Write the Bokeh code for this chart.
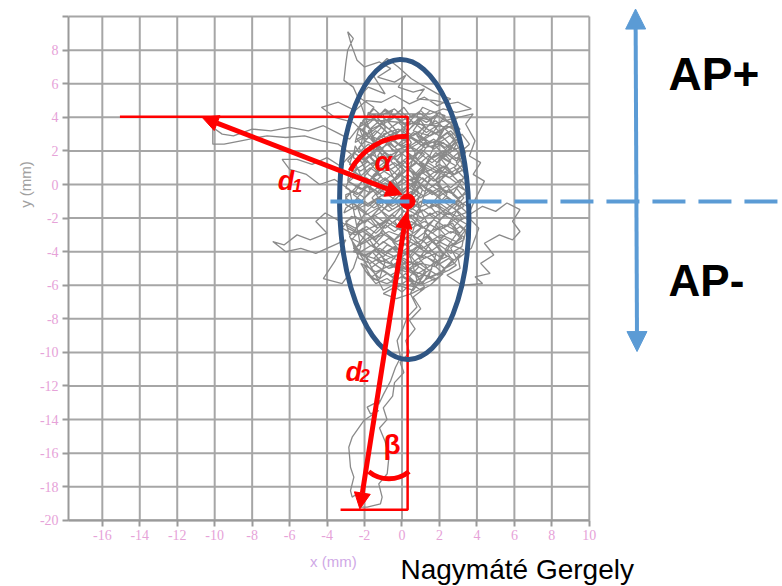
import math
from bokeh.plotting import figure
from bokeh.models import (Arrow, NormalHead, Label, FixedTicker, Range1d, LinearAxis)
from bokeh.embed import file_html
from bokeh.resources import INLINE

# ---------------- data ----------------
x_ticks = list(range(-16, 11, 2))
y_ticks = list(range(-20, 11, 2))
x_tick_labels = ["-16", "-14", "-12", "-10", "-8", "-6", "-4", "-2", "0", "2", "4", "6", "8", "10"]
y_tick_labels = ["-20", "-18", "-16", "-14", "-12", "-10", "-8", "-6", "-4", "-2", "0", "2", "4", "6", "8", ""]
x_extent = (-17.8, 10)
y_extent = (-20, 10)

# centre-of-pressure trace (mm)
cop_path = [
    (0.3,-1.0),(-0.5,0.5),(-1.2,2.0),(-1.8,3.5),(-2.2,4.8),(-2.6,5.8),(-3.1,6.2),(-3.0,7.2),(-2.9,8.0),(-2.6,8.7),
    (-2.9,9.1),(-2.7,8.3),(-2.4,7.4),(-2.0,7.0),(-1.2,7.3),(-0.6,6.9),(-1.3,6.4),(-0.4,6.1),(0.2,6.5),(-0.2,5.8),
    (0.6,5.5),(1.2,5.7),(0.8,5.1),(1.8,5.0),(2.5,4.8),(3.0,4.9),(3.7,4.5),(2.9,4.3),(2.2,4.5),(1.5,4.2),
    (-1.8,4.2),(-1.2,3.6),(-0.4,4.1),(0.3,3.5),(1.1,4.0),(0.6,3.2),(1.5,2.9),(2.3,3.4),(1.9,2.6),(2.7,2.2),
    (2.1,1.6),(2.9,1.1),(2.2,0.7),(1.4,1.3),(0.8,0.6),(0.1,1.4),(-0.6,0.9),(-1.3,1.7),(-0.8,2.5),(-1.7,2.9),
    (-2.3,2.2),(-1.9,1.3),(-2.6,0.8),(-1.8,0.2),(-1.1,0.9),(-0.3,0.3),(0.5,1.1),(1.2,1.8),(0.4,2.3),(-0.5,2.0),
    (-1.0,3.0),(-0.2,3.3),(0.7,2.7),(1.6,2.2),(2.4,2.8),(3.1,3.3),(2.6,3.9),(1.7,3.6),(0.9,4.3),(0.0,3.8),
    (-0.9,4.4),(-1.6,3.9),(-2.3,3.4),(-2.0,2.6),(-1.3,2.3),(-0.6,1.5),(0.2,2.0),(0.9,1.4),(1.7,0.9),(2.5,0.4),
    (3.3,0.9),(3.0,1.8),(3.6,2.4),(3.2,3.0),(2.4,2.0),(1.5,1.5),(0.7,0.2),
    (-0.1,-0.4),(-0.9,0.1),(-1.7,-0.5),(-2.4,-0.1),(-3.0,-0.8),(-2.3,-1.4),(-1.5,-1.0),(-0.7,-1.6),(0.1,-1.1),(0.9,-1.7),
    (1.7,-1.2),(2.5,-1.8),(3.3,-1.3),(2.8,-0.6),(2.0,-0.2),(1.2,-0.7),(0.4,-0.2),(-0.4,-0.9),(-1.2,-1.7),(-2.0,-2.2),
    (-2.7,-1.9),(-3.2,-2.6),(-2.5,-3.0),(-1.7,-2.6),(-0.9,-2.2),(-0.1,-2.7),(0.7,-2.3),(1.5,-2.8),(2.3,-2.4),(3.1,-2.9),
    (3.6,-2.2),(3.0,-1.6),(2.2,-1.0),(1.4,-0.3),(0.6,0.4),(-0.2,-0.1),(-1.0,-0.6),(-1.9,-1.2),(-2.6,-0.6),(-2.0,0.4),
    (-1.3,-0.2),(-0.5,-0.8),(0.3,-1.5),(1.1,-2.0),(1.9,-1.6),(2.7,-2.1),(3.4,-2.7),(2.9,-3.4),(2.1,-3.0),(1.3,-3.5),
    (0.5,-3.0),(-0.3,-3.4),(-1.1,-2.9),(-1.9,-3.4),(-2.6,-3.8),(-2.0,-4.2),(-1.2,-3.8),(-0.4,-4.3),(0.4,-3.9),(1.2,-4.4),
    (2.0,-4.0),(2.8,-4.5),(3.3,-3.9),
    (2.6,-3.6),(1.8,-4.9),(1.0,-4.7),(0.2,-5.2),(-0.6,-4.8),(-1.4,-5.2),(-2.0,-4.8),(-1.6,-5.6),(-0.8,-5.9),(0.0,-5.5),
    (0.8,-6.0),(1.5,-5.5),(2.3,-5.1),(1.6,-4.2),(0.8,-3.4),(0.0,-4.0),(-0.8,-3.6),(-1.5,-4.4),(-0.7,-5.0),(0.5,-4.6),
    (1.3,-5.2),(0.6,-6.3),(-0.2,-6.0),(-1.0,-6.5),(-0.3,-6.8),(0.5,-6.5),(1.2,-6.1),(0.7,-5.3),(0.0,-4.6),(-0.9,-4.2),
    (-1.7,-3.6),(-2.4,-2.8),
    (-3.3,-2.2),(-4.1,-1.7),(-4.6,-2.2),(-4.0,-2.9),(-4.9,-3.3),(-5.6,-3.0),(-6.3,-3.6),(-6.9,-3.4),(-6.2,-4.0),(-5.4,-3.8),
    (-4.6,-4.1),(-3.8,-3.7),(-3.0,-3.3),(-3.6,-4.6),(-4.2,-5.6),(-3.2,-5.9),(-2.6,-5.0),(-2.2,-3.7),(-2.8,-0.3),(-3.6,0.3),
    (-4.4,0.0),(-5.1,0.6),(-6.0,0.9),(-6.4,1.5),(-5.6,1.5),(-4.8,1.2),(-4.0,1.6),(-3.3,1.1),(-2.7,1.8),(-3.4,2.4),
    (-4.3,2.6),(-5.2,2.9),(-6.2,2.8),(-7.2,2.9),(-7.7,2.8),(-8.6,2.6),(-9.5,2.4),(-10.1,2.4),(-10.1,3.4),(-9.6,3.0),
    (-9.0,2.9),(-8.0,3.3),(-7.0,3.2),(-6.0,3.4),(-5.0,3.2),(-4.2,3.5),(-3.5,3.1),(-2.8,2.7),
    (-1.5,4.6),(-2.3,5.2),(-1.8,5.8),(-0.9,5.4),(-1.6,6.6),(-0.8,7.5),(-0.2,7.0),(0.5,6.3),(1.1,5.9),(1.9,5.4),
    (2.6,5.1),(1.9,4.7),(1.2,5.2),(0.4,4.8),(-0.4,5.3),(-1.1,4.9),(-1.9,5.0),(-2.5,4.4),(-3.4,4.9),(-4.3,4.6),
    (-3.6,4.0),(-2.6,3.7),(-1.0,2.0),(1.5,0.0),(3.0,-1.2),
    (3.6,-1.8),(4.3,-1.3),(5.0,-1.6),(5.6,-1.1),(6.3,-1.5),(5.9,-2.2),(6.3,-2.8),(5.9,-3.3),(5.2,-3.0),(4.4,-3.5),
    (4.9,-4.2),(4.2,-4.7),(4.7,-5.3),(3.9,-5.5),(4.3,-5.9),(3.2,-6.0),(2.4,-5.4),(3.1,-5.0),(3.0,-4.4),(3.7,-3.8),
    (4.1,-2.6),(3.5,-1.9),(3.9,-0.9),(4.4,0.2),(3.8,0.6),(4.2,1.3),(3.6,1.7),(3.9,2.6),(3.4,3.6),(3.8,4.2),
    (3.0,4.0),(2.2,3.4),(1.4,1.5),
    (0.2,-1.2),(0.9,-0.5),(0.5,0.3),(1.3,0.8),(1.9,0.1),(2.6,0.8),(2.1,1.5),(2.8,2.1),(2.2,2.8),(1.4,2.4),
    (0.8,3.1),(0.1,2.6),(-0.6,3.2),(-1.4,2.6),(-0.9,1.9),(-1.6,1.2),(-2.3,1.6),(-1.8,0.6),(-1.1,0.1),(-0.4,0.7),
    (0.4,1.6),(1.1,1.0),(1.8,1.9),(2.5,1.4),(3.1,2.0),(2.7,2.9),(2.0,3.6),(1.3,3.1),(0.5,3.8),(-0.3,3.0),
    (-1.1,3.6),(-1.8,3.2),(-1.3,2.0),(-0.5,2.6),(0.3,2.2),(1.0,2.7),(1.7,2.5),(2.4,3.1),(2.9,2.5),(2.3,1.9),
    (1.6,1.3),(0.9,1.9),(0.2,1.0),(-0.5,1.7),(-1.2,1.1),(-1.9,1.9),(-2.5,1.3),(-2.0,0.0),(-1.3,-0.6),(-0.6,0.2),
    (0.1,-0.5),(0.8,0.2),(1.6,-0.6),(2.4,-0.1),(3.0,-0.9),(2.3,-1.5),(1.6,-1.0),(0.9,-1.4),(0.2,-0.8),(-0.5,-1.3),
    (-1.2,-0.9),(-1.9,-1.6),(-2.4,-2.4),(-1.6,-2.0),(-0.9,-2.6),(-0.2,-2.0),(0.5,-2.6),(1.2,-2.2),(2.0,-2.7),(2.7,-2.3),
    (3.2,-3.2),(2.5,-3.7),(1.8,-3.3),(1.1,-3.8),(0.4,-3.4),(-0.3,-3.9),(-1.0,-3.4),(-1.6,-4.0),(-1.1,-4.6),(-0.3,-4.2),
    (0.4,-4.8),(1.1,-4.2),(1.8,-4.6),(2.4,-4.3),(2.0,-3.8),(1.4,-3.0),(0.7,-3.6),(0.0,-3.1),(-0.7,-2.8),(-1.4,-3.2),
    (-2.1,-2.6),(-2.7,-3.3),(-2.2,-4.1),(-1.4,-4.8),(-0.6,-5.4),(0.2,-4.9),(0.9,-5.5),(1.6,-5.0),(1.1,-5.9),(0.3,-5.7),
    (-0.4,-6.2),
    (-0.1,-5.0),(0.6,-4.0),(1.3,-3.2),(2.1,-2.0),(2.8,-1.2),(3.4,-0.4),(2.9,0.3),(2.2,1.1),(1.3,0.4),(0.5,-0.6),
    (-0.4,-1.9),(-1.2,-2.4),(-2.0,-1.6),(-2.6,-1.1),(-2.1,-0.4),(-1.5,0.6),(-0.8,1.3),(0.0,1.9),(0.8,2.4),(1.6,3.0),
    (2.3,4.1),(1.5,4.4),(0.7,3.6),(-0.1,4.4),(-0.8,3.8),(-1.5,4.5),(-2.1,3.8),(-1.6,3.2),(-2.4,2.7),(-1.9,2.0),
    (-1.2,2.9),(-0.4,2.2),(0.3,2.9),(1.2,2.2),(2.0,2.4),(2.7,1.7),(3.3,1.3),(2.8,0.6),(2.0,0.8),(1.2,-0.1),
    (0.3,0.6),(-0.6,-0.3),(-1.4,0.3),(-2.2,-0.3),(-2.9,0.2),(-2.4,0.9),(-2.9,1.4),(-2.2,2.3),
    (-1.8,4.3),(-1.3,4.0),(-0.9,4.5),(-0.4,4.1),(0.1,4.6),(0.5,4.0),(1.0,4.4),(1.5,3.9),(2.0,4.3),(2.4,3.8),
    (2.8,3.6),(2.3,3.3),(1.8,3.8),(1.3,3.4),(0.8,3.7),(0.3,3.2),(-0.2,3.7),(-0.7,3.3),(-1.2,3.8),(-1.7,3.3),(-2.2,3.7),
    (-2.4,3.0),(-1.9,2.7),(-1.4,3.2),(-0.9,2.8),(-0.4,3.1),(0.1,2.6),(0.6,3.1),(1.1,2.7),(1.6,3.2),(2.1,2.8),(2.6,3.2),(3.0,2.7),
    (3.2,2.3),(2.7,2.0),(2.2,2.5),(1.7,2.1),(1.2,2.5),(0.7,2.0),(0.2,2.4),(-0.3,1.9),(-0.8,2.4),(-1.3,2.0),(-1.8,2.4),(-2.3,1.9),(-2.5,2.3),
    (-2.6,1.6),(-2.1,1.3),(-1.6,1.8),(-1.1,1.4),(-0.6,1.8),(-0.1,1.3),(0.4,1.7),(0.9,1.2),(1.4,1.7),(1.9,1.3),(2.4,1.8),(2.9,1.4),(3.3,1.7),
    (3.3,0.9),(2.8,0.6),(2.3,1.1),(1.8,0.7),(1.3,1.0),(0.8,0.5),(0.3,0.9),(-0.2,0.5),(-0.7,1.0),(-1.2,0.6),(-1.7,1.0),(-2.2,0.5),(-2.8,0.9),
    (-2.9,0.2),(-2.4,-0.1),(-1.9,0.4),(-1.4,0.0),(-0.9,0.4),(-0.4,-0.1),(0.1,0.3),(0.6,-0.1),(1.1,0.4),(1.6,-0.1),(2.1,0.3),(2.6,-0.2),(3.1,0.3),(3.4,0.0),
    (3.5,-0.5),(3.0,-0.8),(2.5,-0.3),(2.0,-0.7),(1.5,-0.3),(1.0,-0.8),(0.5,-0.4),(0.0,-0.8),(-0.5,-0.3),(-1.0,-0.7),(-1.5,-0.3),(-2.0,-0.8),(-2.5,-0.4),(-3.0,-0.6),
    (-3.0,-1.2),(-2.5,-1.5),(-2.0,-1.0),(-1.5,-1.4),(-1.0,-1.0),(-0.5,-1.5),(0.0,-1.1),(0.5,-1.5),(1.0,-1.0),(1.5,-1.4),(2.0,-1.1),(2.5,-1.5),(3.0,-1.0),(3.5,-1.3),
    (3.5,-1.9),(3.0,-2.2),(2.5,-1.7),(2.0,-2.1),(1.5,-1.7),(1.0,-2.2),(0.5,-1.8),(0.0,-2.3),(-0.5,-1.8),(-1.0,-2.2),(-1.5,-1.8),(-2.0,-2.3),(-2.5,-1.9),(-3.0,-2.2),
    (-2.9,-2.6),(-2.4,-2.9),(-1.9,-2.5),(-1.4,-2.9),(-0.9,-2.4),(-0.4,-2.8),(0.1,-2.4),(0.6,-2.9),(1.1,-2.5),(1.6,-2.9),(2.1,-2.5),(2.6,-2.9),(3.1,-2.5),(3.4,-2.8),
    (3.3,-3.3),(2.8,-3.6),(2.3,-3.2),(1.8,-3.6),(1.3,-3.1),(0.8,-3.5),(0.3,-3.1),(-0.2,-3.6),(-0.7,-3.2),(-1.2,-3.6),(-1.7,-3.1),(-2.2,-3.5),(-2.7,-3.2),
    (-2.5,-4.0),(-2.0,-4.3),(-1.5,-3.9),(-1.0,-4.3),(-0.5,-3.8),(0.0,-4.3),(0.5,-3.9),(1.0,-4.4),(1.5,-3.9),(2.0,-4.3),(2.5,-3.9),(3.1,-4.2),
    (2.8,-4.7),(2.3,-5.0),(1.8,-4.6),(1.3,-5.0),(0.8,-4.6),(0.3,-5.1),(-0.2,-4.6),(-0.7,-5.0),(-1.2,-4.6),(-1.7,-5.0),(-2.2,-4.7),
    (-1.8,-5.4),(-1.3,-5.7),(-0.8,-5.3),(-0.3,-5.7),(0.2,-5.3),(0.7,-5.8),(1.2,-5.4),(1.7,-5.7),(2.2,-5.3),
    (1.5,-6.0),(1.0,-6.3),(0.5,-5.9),(0.0,-6.4),(-0.5,-6.0),(-1.0,-6.3),
    (-1.6,-5.0),(-1.9,-4.4),(-1.4,-3.8),(-1.8,-3.2),(-1.3,-2.6),(-1.7,-2.0),(-1.2,-1.4),(-1.6,-0.8),(-1.1,-0.2),(-1.6,0.4),
    (-1.2,1.0),(-1.7,1.6),(-1.2,2.2),(-1.6,2.8),(-1.1,3.4),(-1.5,4.0),
    (-0.5,4.4),(-0.8,3.8),(-0.3,3.2),(-0.7,2.6),(-0.2,2.0),(-0.6,1.4),(-0.1,0.8),(-0.5,0.2),(0.0,-0.4),(-0.4,-1.0),
    (0.1,-1.6),(-0.4,-2.2),(0.0,-2.8),(-0.5,-3.4),(-0.1,-4.0),(-0.6,-4.6),(-0.2,-5.2),(-0.6,-5.8),
    (0.7,-6.1),(0.4,-5.5),(0.9,-4.9),(0.5,-4.3),(1.0,-3.7),(0.6,-3.1),(1.1,-2.5),(0.6,-1.9),(1.0,-1.3),(0.5,-0.7),
    (1.0,-0.1),(0.6,0.5),(1.1,1.1),(0.7,1.7),(1.2,2.3),(0.8,2.9),(1.2,3.5),(0.8,4.1),(1.1,4.6),
    (1.9,4.2),(1.6,3.6),(2.1,3.0),(1.7,2.4),(2.2,1.8),(1.8,1.2),(2.3,0.6),(1.9,0.0),(2.4,-0.6),(1.9,-1.2),
    (2.3,-1.8),(1.8,-2.4),(2.3,-3.0),(1.8,-3.6),(2.2,-4.2),(1.7,-4.8),(2.1,-5.2),
    (2.9,-4.4),(2.6,-3.8),(3.1,-3.2),(2.7,-2.6),(3.2,-2.0),(2.8,-1.4),(3.3,-0.8),(2.9,-0.2),(3.3,0.4),(2.8,1.0),
    (3.2,1.6),(2.8,2.2),(3.1,2.8),(2.7,3.4),
    (-2.0,3.9),(-1.5,4.2),(-1.0,3.6),(-0.4,4.0),(0.2,3.5),(0.7,4.1),(1.3,3.7),(1.9,4.1),(2.6,3.6),
    (3.0,3.1),(2.4,3.5),(1.8,3.0),(1.2,3.4),(0.6,2.9),(0.0,3.3),(-0.6,2.9),(-1.2,3.5),(-1.8,3.0),(-2.3,3.4),
    (-2.5,2.5),(-1.9,2.9),(-1.3,2.4),(-0.7,2.8),(-0.1,2.3),(0.5,2.8),(1.1,2.3),(1.7,2.7),(2.3,2.2),(2.9,2.7),(3.2,2.3),
    (3.4,1.9),(2.8,1.5),(2.2,2.0),(1.6,1.6),(1.0,2.1),(0.4,1.5),(-0.2,2.0),(-0.8,1.6),(-1.4,2.1),(-2.0,1.5),(-2.6,1.9),
    (-2.8,1.2),(-2.2,0.8),(-1.6,1.3),(-1.0,0.9),(-0.4,1.3),(0.2,0.8),(0.8,1.3),(1.4,0.8),(2.0,1.2),(2.6,0.7),(3.2,1.1),(3.4,0.7),
    (3.5,0.5),(2.9,0.1),(2.3,0.6),(1.7,0.2),(1.1,0.7),(0.5,0.2),(-0.1,0.6),(-0.7,0.1),(-1.3,0.6),(-1.9,0.1),(-2.5,0.5),(-2.9,0.1),
    (-3.0,-0.2),(-2.4,-0.6),(-1.8,-0.1),(-1.2,-0.5),(-0.6,0.0),(0.0,-0.4),(0.6,0.1),(1.2,-0.4),(1.8,0.0),(2.4,-0.5),(3.0,-0.1),(3.6,-0.5),
    (3.6,-0.9),(3.0,-1.3),(2.4,-0.8),(1.8,-1.3),(1.2,-0.9),(0.6,-1.3),(0.0,-0.8),(-0.6,-1.2),(-1.2,-0.8),(-1.8,-1.3),(-2.4,-0.9),(-3.0,-1.4),
    (-3.1,-1.7),(-2.5,-1.3),(-1.9,-1.8),(-1.3,-1.4),(-0.7,-1.9),(-0.1,-1.4),(0.5,-1.9),(1.1,-1.5),(1.7,-2.0),(2.3,-1.5),(2.9,-1.9),(3.6,-1.6),
    (3.5,-2.4),(2.9,-2.0),(2.3,-2.5),(1.7,-2.1),(1.1,-2.6),(0.5,-2.2),(-0.1,-2.6),(-0.7,-2.1),(-1.3,-2.6),(-1.9,-2.1),(-2.5,-2.6),(-3.0,-2.3),
    (-2.8,-3.0),(-2.2,-2.7),(-1.6,-3.2),(-1.0,-2.8),(-0.4,-3.3),(0.2,-2.8),(0.8,-3.2),(1.4,-2.7),(2.0,-3.2),(2.6,-2.8),(3.3,-3.1),
    (3.2,-3.7),(2.6,-4.1),(2.0,-3.6),(1.4,-4.1),(0.8,-3.7),(0.2,-4.2),(-0.4,-3.7),(-1.0,-4.1),(-1.6,-3.6),(-2.2,-4.0),(-2.6,-3.6),
    (-2.3,-4.4),(-1.7,-4.7),(-1.1,-4.3),(-0.5,-4.8),(0.1,-4.4),(0.7,-4.8),(1.3,-4.3),(1.9,-4.8),(2.5,-4.4),(2.9,-4.8),
    (2.5,-5.1),(1.9,-5.4),(1.3,-5.0),(0.7,-5.4),(0.1,-5.0),(-0.5,-5.5),(-1.1,-5.1),(-1.6,-5.5),(-2.0,-5.1),
    (-1.4,-5.9),(-0.8,-5.6),(-0.2,-6.1),(0.4,-5.6),(1.0,-6.0),(1.8,-5.6),
    (-2.6,-4.0),(-1.9,-2.9),(-1.4,-3.3),(-0.7,-2.1),(-1.1,-1.6),(-0.3,-0.6),(-0.8,-0.2),(0.1,0.9),(-0.3,1.4),(0.5,2.5),(0.2,3.0),(0.9,4.0),
    (1.6,3.8),(1.0,2.9),(1.5,2.5),(0.8,1.5),(1.3,1.0),(0.5,-0.1),(1.0,-0.6),(0.2,-1.7),(0.7,-2.2),(-0.1,-3.3),(0.4,-3.8),(-0.4,-4.9),(0.1,-5.5),
    (0.9,-5.9),(1.3,-4.9),(0.9,-4.4),(1.6,-3.4),(1.2,-2.8),(1.9,-1.8),(1.5,-1.3),(2.2,-0.3),(1.8,0.3),(2.6,1.4),(2.2,1.9),(3.0,3.0),(2.6,3.5),
    (3.3,2.2),(2.9,1.3),(3.4,0.6),(2.7,-0.6),(3.2,-1.1),(2.5,-2.3),(3.0,-2.8),(2.3,-3.9),(2.7,-4.5),(2.0,-5.3),
    (1.4,-5.6),(1.8,-4.2),(1.1,-3.3),(1.4,-2.4),(0.8,-1.1),(1.1,-0.3),(0.4,0.9),(0.7,1.9),(0.0,2.9),(0.3,3.8),(-0.4,4.5),
    (-1.0,4.2),(-0.9,3.3),(-1.6,2.3),(-1.3,1.4),(-2.0,0.5),(-1.7,-0.4),(-2.4,-1.3),(-2.1,-2.2),(-2.8,-3.1),(-2.4,-3.9),(-1.8,-4.9),(-1.2,-5.6),
    (-0.9,-4.6),(-1.5,-3.6),(-0.9,-2.9),(-1.6,-1.9),(-1.0,-1.2),(-1.7,-0.1),(-1.1,0.5),(-1.9,1.5),(-1.3,2.2),(-2.1,3.3),(-1.5,3.9),
    (1.5,0.5),(0.3,-3.8),(0.6,-4.9),
    (0.8,-5.7),(0.45,-6.5),(0.8,-7.3),(0.28,-7.9),(0.01,-8.7),(-0.26,-9.3),(-0.08,-10.3),(-0.35,-10.9),(-0.61,-11.7),(-0.99,-12.5),
    (-1.25,-13.1),(-1.15,-12.86),(-1.86,-13.26),(-1.68,-13.66),(-1.24,-13.46),(-2.04,-14.06),(-2.66,-15.05),(-2.84,-15.65),(-2.75,-16.84),(-2.57,-17.43),
    (-2.75,-18.23),(-2.66,-18.62),(-2.39,-18.42),(-2.22,-19.22),(-1.86,-19.22),(-1.15,-19.02),(-1.06,-18.62),(-1.24,-17.83),(-0.79,-17.23),(-0.70,-16.24),
    (-0.9,-15.3),(-1.2,-14.5),(-0.8,-14.0),(-1.0,-13.3),(-0.5,-12.6),(-0.4,-11.8),(0.1,-11.2),(-0.1,-10.6),(0.4,-10.0),(0.2,-9.3),
    (0.7,-8.6),(0.4,-8.1),(1.0,-7.4),(0.6,-6.7),(1.2,-6.2),
]
trace_x = [pt[0] for pt in cop_path]
trace_y = [pt[1] for pt in cop_path]

RED = "#ff0000"
NAVY = "#2f5583"
LBLUE = "#5b9bd5"
GRID = "#a6a6a6"
TICKC = "#e6a2d8"

# whole canvas is the frame; the chart's own axes are placed at fixed locations
p = figure(width=782, height=586, output_backend="svg", toolbar_location=None,
           x_range=Range1d(-21.436, 20.315), y_range=Range1d(-23.943, 10.959),
           x_axis_location=None, y_axis_location=None, min_border=0)
p.outline_line_color = None
p.background_fill_color = "white"
p.border_fill_color = "white"
p.xgrid.visible = False
p.ygrid.visible = False

# grid lines at the tick positions, limited to the chart area
p.segment(x0=x_ticks, y0=[y_extent[0]] * len(x_ticks), x1=x_ticks, y1=[y_extent[1]] * len(x_ticks),
          line_color=GRID, line_width=2)
p.segment(x0=[x_extent[0]] * len(y_ticks), y0=y_ticks, x1=[x_extent[1]] * len(y_ticks), y1=y_ticks,
          line_color=GRID, line_width=2)

xax = LinearAxis(fixed_location=y_extent[0], bounds=x_extent,
                 ticker=FixedTicker(ticks=x_ticks),
                 major_label_overrides=dict(zip(x_ticks, x_tick_labels)))
yax = LinearAxis(fixed_location=x_extent[0], bounds=y_extent,
                 ticker=FixedTicker(ticks=y_ticks),
                 major_label_overrides=dict(zip(y_ticks, y_tick_labels)))
for ax in (xax, yax):
    ax.minor_tick_line_color = None
    ax.major_tick_out = 6
    ax.major_tick_in = 0
    ax.major_tick_line_color = "#9a9a9a"
    ax.major_tick_line_width = 2
    ax.axis_line_color = "#9a9a9a"
    ax.axis_line_width = 2
    ax.major_label_text_font = "Liberation Serif"
    ax.major_label_text_font_size = "14px"
    ax.major_label_text_color = TICKC
    ax.major_label_standoff = 4
p.add_layout(xax, "below")
p.add_layout(yax, "left")

# trace
p.line(trace_x, trace_y, line_color="#8a8a8a", line_width=1.3)

# thin red reference lines
p.line([-15.06, 0.3, 0.3, -3.28], [4.03, 4.03, -19.37, -19.37], line_color=RED, line_width=2.5)

# ellipse
p.ellipse(x=[0.12], y=[-1.49], width=[129], height=[300], width_units="screen",
          height_units="screen", angle=[0.03], fill_color=None, line_color=NAVY, line_width=5)

# angle arcs
p.arc(x=[0.3], y=[-1.0], radius=65, radius_units="screen",
      start_angle=math.radians(90), end_angle=math.radians(152), direction="anticlock",
      line_color=RED, line_width=5)
p.arc(x=[-0.70], y=[-15.62], radius=32, radius_units="screen",
      start_angle=math.radians(-129), end_angle=math.radians(-51), direction="anticlock",
      line_color=RED, line_width=5)

# centre point
p.scatter(x=[0.3], y=[-1.0], size=15, fill_color=RED, line_color=RED)

def head(color, size):
    return NormalHead(size=size, fill_color=color, line_color=color)

# d1 and d2 arrows
p.add_layout(Arrow(x_start=0.0, y_start=-0.6, x_end=-10.67, y_end=4.0,
                   start=head(RED, 16), end=head(RED, 16), line_color=RED, line_width=5))
p.add_layout(Arrow(x_start=0.24, y_start=-1.65, x_end=-2.25, y_end=-19.32,
                   start=head(RED, 16), end=head(RED, 16), line_color=RED, line_width=5))

# blue dashed level line and AP arrow
p.add_layout(Arrow(x_start=-3.82, y_start=-1.01, x_end=20.5, y_end=-1.01, end=None,
                   line_color=LBLUE, line_width=4, line_dash="33 13"))
p.add_layout(Arrow(x_start=12.55, y_start=-9.95, x_end=12.47, y_end=10.45,
                   start=head(LBLUE, 20), end=head(LBLUE, 20), line_color=LBLUE, line_width=4))

def lab(text, x, y, size, style="bold", color=RED, align="left", baseline="middle",
        font="Liberation Sans", angle=0.0):
    p.add_layout(Label(x=x, y=y, text=text, text_font=font, text_font_size=size,
                       text_font_style=style, text_color=color, text_align=align,
                       text_baseline=baseline, angle=angle))

lab("d", -6.63, 0.18, "27px", style="bold italic")
lab("1", -5.86, -0.06, "18px", style="bold italic")
lab("d", -3.02, -11.17, "27px", style="bold italic")
lab("2", -2.25, -11.38, "18px", style="bold italic")
lab("α", -1.0, 1.35, "28px", style="bold italic", align="center")
lab("β", -0.53, -15.5, "28px", style="bold", align="center")
lab("AP+", 14.23, 6.58, "46px", color="black")
lab("AP-", 14.23, -5.72, "44px", color="black")
lab("Nagymáté Gergely", -0.08, -22.93, "28px", style="normal", color="black")
lab("y (mm)", -20.1, 0.0, "15px", style="normal", color="#a0a0a0", align="center",
    angle=math.pi / 2)
lab("x (mm)", -3.66, -22.45, "15px", style="normal", color="#cfa8e6", align="center")

open("out.html", "w").write(file_html(p, INLINE))
